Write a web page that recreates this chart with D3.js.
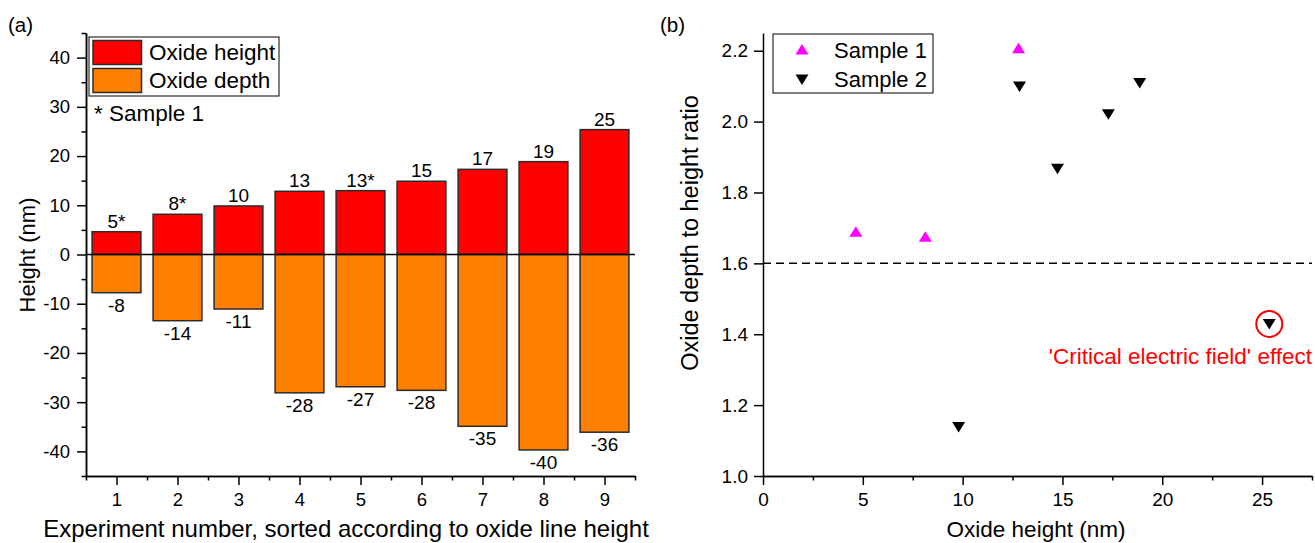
<!DOCTYPE html>
<html>
<head>
<meta charset="utf-8">
<script src="https://cdn.jsdelivr.net/npm/d3@7"></script>
<style>
  html, body { margin: 0; padding: 0; background: #fff; }
  svg { display: block; font-family: "Liberation Sans", Arial, sans-serif; }
</style>
</head>
<body>
<svg id="chart" width="1315" height="543"></svg>
<script>
(function () {
  "use strict";

  // (a) bar chart data
  var experiments = [1, 2, 3, 4, 5, 6, 7, 8, 9];
  var heights = [4.63, 8.17, 9.86, 12.84, 12.97, 14.88, 17.3, 18.86, 25.37];
  var depths = [-7.76, -13.45, -11.08, -28.1, -26.87, -27.6, -34.9, -39.7, -36.1];
  var heightLabels = ["5*", "8*", "10", "13", "13*", "15", "17", "19", "25"];
  var depthLabels = ["-8", "-14", "-11", "-28", "-27", "-28", "-35", "-40", "-36"];

  // (b) scatter data
  var s1x = [4.65, 8.13, 12.8];
  var s1y = [1.689, 1.675, 2.207];
  var s2x = [9.8, 12.85, 14.75, 17.3, 18.87, 25.36];
  var s2y = [1.138, 2.099, 1.867, 2.021, 2.109, 1.429];
  var threshold = 1.6;

  var C = { height: "#ff0000", depth: "#ff8000", s1: "#ff00ff", s2: "#000000", note: "#ff0000", edge: "#2b2b2b" };

  var svg = d3.select("#chart");

  function styleAxis(size) {
    return function (g) {
      g.selectAll("path.domain").attr("stroke-width", 1.5);
      g.selectAll(".tick line").attr("stroke-width", 1.5);
      g.selectAll("text").attr("font-size", size).attr("font-family", null).attr("fill", "#000");
    };
  }
  // plain hyphen for negatives, like the original plot
  var plain = function (d) { return String(d); };

  // ---------- panel (a) ----------
  var ax = d3.scaleLinear().domain([0.5, 9.5]).range([86, 635]);
  var ay = d3.scaleLinear().domain([-45, 45]).range([476, 33]);
  var a = svg.append("g");
  var bw = ax(1.8) - ax(1.0);

  a.selectAll("rect.h").data(experiments).join("rect")
    .attr("x", function (d) { return ax(d) - bw / 2; })
    .attr("y", function (d, i) { return ay(heights[i]); })
    .attr("width", bw)
    .attr("height", function (d, i) { return ay(0) - ay(heights[i]); })
    .attr("fill", C.height).attr("stroke", C.edge).attr("stroke-width", 1.5);

  a.selectAll("rect.d").data(experiments).join("rect")
    .attr("x", function (d) { return ax(d) - bw / 2; })
    .attr("y", ay(0))
    .attr("width", bw)
    .attr("height", function (d, i) { return ay(depths[i]) - ay(0); })
    .attr("fill", C.depth).attr("stroke", C.edge).attr("stroke-width", 1.5);

  a.append("line").attr("x1", ax(0.5)).attr("x2", ax(9.5))
    .attr("y1", ay(0)).attr("y2", ay(0)).attr("stroke", "#000").attr("stroke-width", 1.5);

  a.selectAll("text.hl").data(experiments).join("text")
    .attr("x", function (d) { return ax(d); })
    .attr("y", function (d, i) { return ay(heights[i]) - 4; })
    .attr("text-anchor", "middle").attr("font-size", 19)
    .text(function (d, i) { return heightLabels[i]; });

  a.selectAll("text.dl").data(experiments).join("text")
    .attr("x", function (d) { return ax(d); })
    .attr("y", function (d, i) { return ay(depths[i]) + 19; })
    .attr("text-anchor", "middle").attr("font-size", 19)
    .text(function (d, i) { return depthLabels[i]; });

  // axes (a)
  a.append("g").attr("transform", "translate(86,0)")
    .call(d3.axisLeft(ay).tickValues(d3.range(-40, 41, 10)).tickSize(9).tickSizeOuter(0).tickPadding(7).tickFormat(plain))
    .call(styleAxis(18.5));
  a.append("g").attr("transform", "translate(86,0)")
    .call(d3.axisLeft(ay).tickValues(d3.range(-45, 46, 10)).tickSize(4.5).tickSizeOuter(0).tickFormat(""))
    .call(styleAxis(18.5));
  a.append("g").attr("transform", "translate(0,476)")
    .call(d3.axisBottom(ax).tickValues(experiments).tickSize(9).tickSizeOuter(0).tickPadding(8).tickFormat(plain))
    .call(styleAxis(18.5));
  a.append("g").attr("transform", "translate(0,476)")
    .call(d3.axisBottom(ax).tickValues(d3.range(0.5, 9.6, 1)).tickSize(4.5).tickSizeOuter(0).tickFormat(""))
    .call(styleAxis(18.5));

  a.append("text").attr("x", 346).attr("y", 537).attr("text-anchor", "middle")
    .attr("font-size", 24).text("Experiment number, sorted according to oxide line height");
  a.append("text").attr("transform", "translate(35,255) rotate(-90)").attr("text-anchor", "middle")
    .attr("font-size", 22).text("Height (nm)");
  a.append("text").attr("x", 8).attr("y", 32).attr("font-size", 20.5).text("(a)");

  // legend (a)
  var la = a.append("g");
  la.append("rect").attr("x", 89).attr("y", 37).attr("width", 190).attr("height", 59)
    .attr("fill", "#fff").attr("stroke", "#000").attr("stroke-width", 1);
  [[C.height, "Oxide height"], [C.depth, "Oxide depth"]].forEach(function (e, i) {
    la.append("rect").attr("x", 93).attr("y", 40.5 + i * 28).attr("width", 48.5).attr("height", 24)
      .attr("fill", e[0]).attr("stroke", C.edge).attr("stroke-width", 1.5);
    la.append("text").attr("x", 149).attr("y", 60 + i * 28).attr("font-size", 22.5).text(e[1]);
  });
  a.append("text").attr("x", 94).attr("y", 121).attr("font-size", 22.5).text("* Sample 1");

  // ---------- panel (b) ----------
  var bx = d3.scaleLinear().domain([0, 27.5]).range([763, 1312]);
  var by = d3.scaleLinear().domain([1.0, 2.25]).range([476, 33]);
  var b = svg.append("g");

  b.append("line").attr("x1", bx(0)).attr("x2", bx(27.5))
    .attr("y1", by(threshold)).attr("y2", by(threshold))
    .attr("stroke", "#000").attr("stroke-width", 1.5).attr("stroke-dasharray", "8,5");

  b.append("g").attr("transform", "translate(763,0)")
    .call(d3.axisLeft(by).tickValues(d3.range(1.0, 2.21, 0.2)).tickSize(9).tickSizeOuter(0).tickPadding(6)
      .tickFormat(d3.format(".1f")))
    .call(styleAxis(19));
  b.append("g").attr("transform", "translate(0,476)")
    .call(d3.axisBottom(bx).tickValues(d3.range(0, 26, 5)).tickSize(9).tickSizeOuter(0).tickPadding(8).tickFormat(plain))
    .call(styleAxis(19));
  b.append("g").attr("transform", "translate(0,476)")
    .call(d3.axisBottom(bx).tickValues(d3.range(2.5, 27.6, 5)).tickSize(4.5).tickSizeOuter(0).tickFormat(""))
    .call(styleAxis(19));

  function tri(up) {
    return up ? "M0,-5.5L6.5,5L-6.5,5Z" : "M0,5.5L6.5,-5L-6.5,-5Z";
  }

  b.selectAll("path.s1").data(s1x).join("path")
    .attr("d", tri(true)).attr("fill", C.s1)
    .attr("transform", function (d, i) { return "translate(" + bx(d) + "," + by(s1y[i]) + ")"; });
  b.selectAll("path.s2").data(s2x).join("path")
    .attr("d", tri(false)).attr("fill", C.s2)
    .attr("transform", function (d, i) { return "translate(" + bx(d) + "," + by(s2y[i]) + ")"; });

  // highlight of the critical-field point
  var last = s2x.length - 1;
  b.append("circle").attr("cx", bx(s2x[last])).attr("cy", by(s2y[last])).attr("r", 13)
    .attr("fill", "none").attr("stroke", C.note).attr("stroke-width", 2);
  b.append("text").attr("x", 1312).attr("y", 364).attr("text-anchor", "end")
    .attr("font-size", 22.5).attr("fill", C.note).text("'Critical electric field' effect");

  b.append("text").attr("x", 1036).attr("y", 537).attr("text-anchor", "middle")
    .attr("font-size", 22.5).text("Oxide height (nm)");
  b.append("text").attr("transform", "translate(698,233) rotate(-90)").attr("text-anchor", "middle")
    .attr("font-size", 23.5).text("Oxide depth to height ratio");
  b.append("text").attr("x", 660).attr("y", 32).attr("font-size", 20.5).text("(b)");

  // legend (b)
  var lb = b.append("g");
  lb.append("rect").attr("x", 773).attr("y", 34).attr("width", 160).attr("height", 59)
    .attr("fill", "#fff").attr("stroke", "#000").attr("stroke-width", 1);
  [[true, C.s1, "Sample 1"], [false, C.s2, "Sample 2"]].forEach(function (e, i) {
    lb.append("path").attr("d", tri(e[0])).attr("fill", e[1])
      .attr("transform", "translate(802," + (49.5 + i * 30) + ")");
    lb.append("text").attr("x", 834).attr("y", 58 + i * 29).attr("font-size", 22).text(e[2]);
  });
})();
</script>
</body>
</html>
